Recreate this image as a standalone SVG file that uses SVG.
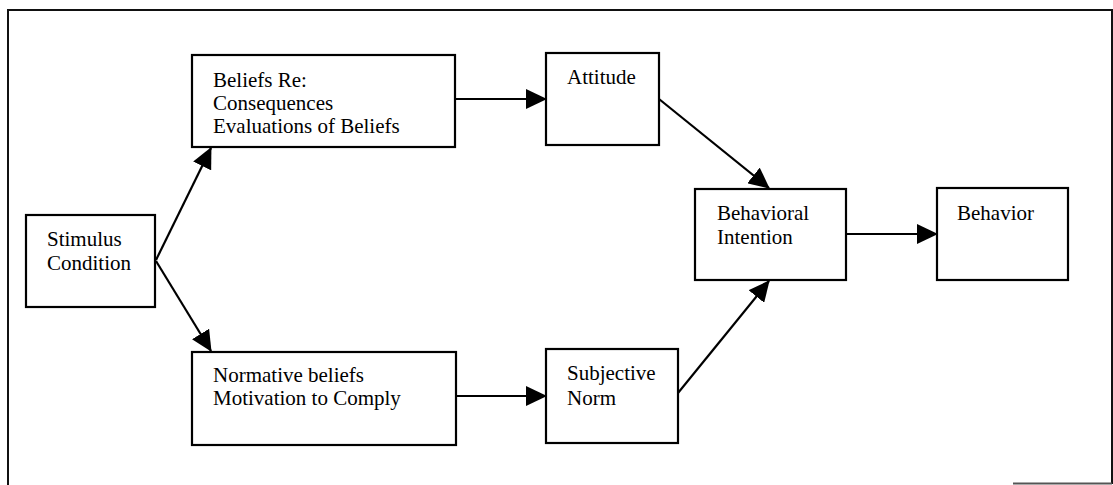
<svg xmlns="http://www.w3.org/2000/svg" width="1113" height="485" viewBox="0 0 1113 485">
  <style>
    .box { fill: #ffffff; stroke: #000000; stroke-width: 2.2; }
    .frame { fill: none; stroke: #111111; stroke-width: 2; }
    .link { fill: none; stroke: #000000; stroke-width: 2.2; marker-end: url(#head); }
    text { font-family: "Liberation Serif", "Times New Roman", serif; font-size: 21px; fill: #000000; }
  </style>
  <defs>
    <marker id="head" viewBox="0 0 21 20" refX="20" refY="10" markerWidth="21" markerHeight="20" markerUnits="userSpaceOnUse" orient="auto">
      <path d="M0,0 L21,10 L0,20 Z" fill="#000000"/>
    </marker>
  </defs>
  <rect width="1113" height="485" fill="#ffffff"/>

  <!-- outer frame -->
  <g id="frame">
    <path class="frame" d="M8,485 L8,10 L1112,10 L1112,484"/>
    <path d="M1013,483.5 L1112,483.5" stroke="#555555" stroke-width="2"/>
  </g>

  <!-- connectors -->
  <g id="connectors">
    <line class="link" x1="156" y1="260" x2="211" y2="148"/>
    <line class="link" x1="156" y1="261" x2="211" y2="351"/>
    <line class="link" x1="455" y1="99" x2="546" y2="99"/>
    <line class="link" x1="456" y1="396" x2="546" y2="396"/>
    <line class="link" x1="659" y1="99" x2="769" y2="188"/>
    <line class="link" x1="678" y1="393" x2="769" y2="281"/>
    <line class="link" x1="846" y1="234" x2="937" y2="234"/>
  </g>

  <g id="stimulus">
    <rect class="box" x="26" y="215" width="129" height="92"/>
    <text x="47" y="246">Stimulus</text>
    <text x="47" y="270">Condition</text>
  </g>

  <g id="beliefs">
    <rect class="box" x="192" y="55" width="263" height="92"/>
    <text x="213" y="87">Beliefs Re:</text>
    <text x="213" y="110">Consequences</text>
    <text x="213" y="133">Evaluations of Beliefs</text>
  </g>

  <g id="normative">
    <rect class="box" x="192" y="352" width="264" height="93"/>
    <text x="213" y="382">Normative beliefs</text>
    <text x="213" y="405">Motivation to Comply</text>
  </g>

  <g id="attitude">
    <rect class="box" x="546" y="53" width="113" height="92"/>
    <text x="567" y="84">Attitude</text>
  </g>

  <g id="subjective-norm">
    <rect class="box" x="546" y="349" width="132" height="94"/>
    <text x="567" y="380">Subjective</text>
    <text x="567" y="405">Norm</text>
  </g>

  <g id="behavioral-intention">
    <rect class="box" x="695" y="189" width="151" height="91"/>
    <text x="717" y="220">Behavioral</text>
    <text x="717" y="244">Intention</text>
  </g>

  <g id="behavior">
    <rect class="box" x="937" y="188" width="131" height="92"/>
    <text x="957" y="220">Behavior</text>
  </g>
</svg>
